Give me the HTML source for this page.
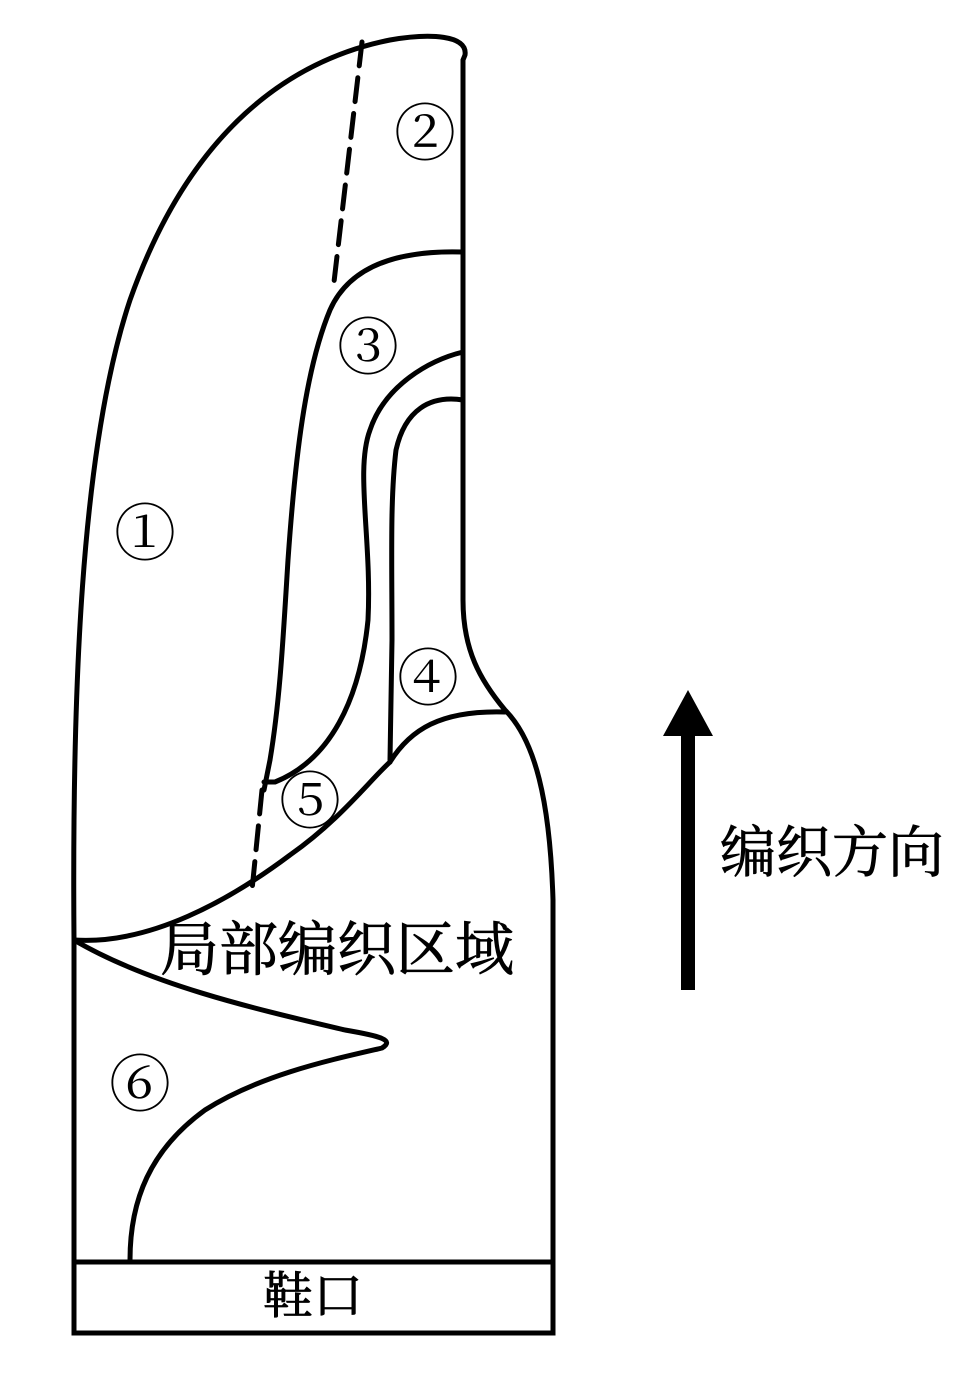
<!DOCTYPE html>
<html><head><meta charset="utf-8"><style>html,body{margin:0;padding:0;background:#fff}</style></head>
<body>
<svg width="958" height="1368" viewBox="0 0 958 1368" xmlns="http://www.w3.org/2000/svg" fill="none" stroke="#000" stroke-width="5" stroke-linecap="round">
<path d="M74,1333 L74,940 C72,700 80,450 130,300 C190,130 290,60 390,40 C430,33 468,35 465,55 L463,60 L463,600 C463,650 480,680 505,710 C535,740 550,800 553,900 L553,1333 Z"/>
<line x1="74" y1="1262" x2="553" y2="1262"/>
<path d="M362,42 L334,282" stroke-dasharray="24,12"/>
<path d="M262,790 L252,890" stroke-dasharray="24,12"/>
<path d="M463,252 C400,250 350,265 330,310 C305,370 295,460 288,560 C283,640 280,700 270,760 L264,790"/>
<path d="M264,782 L275,782 C330,760 360,700 368,620 C372,540 355,470 370,430 C385,385 430,360 463,352"/>
<path d="M463,400 C430,395 405,410 396,450 C390,500 392,560 392,640 L390,760"/>
<path d="M390,762 C410,730 440,710 505,712"/>
<path d="M74,940 C150,945 230,900 290,855 C340,820 370,780 390,762"/>
<path d="M74,940 C150,985 260,1010 345,1030 C380,1036 395,1040 382,1048 C330,1060 260,1075 205,1110 C150,1150 130,1200 130,1260"/>
<rect x="681" y="728" width="14" height="262" fill="#000" stroke="none"/>
<path d="M688,690 L663,736 L713,736 Z" fill="#000" stroke="none"/>
<g fill="#000" stroke="#000" stroke-width="0.8" font-family="Liberation Serif, Noto Serif CJK SC, serif">
<text x="720" y="872" font-size="56">编织方向</text>
<text x="160" y="970" font-size="59">局部编织区域</text>
<text x="313" y="1313" font-size="50" text-anchor="middle">鞋口</text>
</g>
<g fill="#000" stroke="none" font-family="Liberation Serif, Noto Serif CJK SC, serif" font-size="62" text-anchor="middle">
<text x="145" y="555">①</text>
<text x="425" y="155">②</text>
<text x="368" y="369">③</text>
<text x="428" y="700">④</text>
<text x="310" y="823">⑤</text>
<text x="140" y="1106">⑥</text>
</g>
</svg>
</body></html>
